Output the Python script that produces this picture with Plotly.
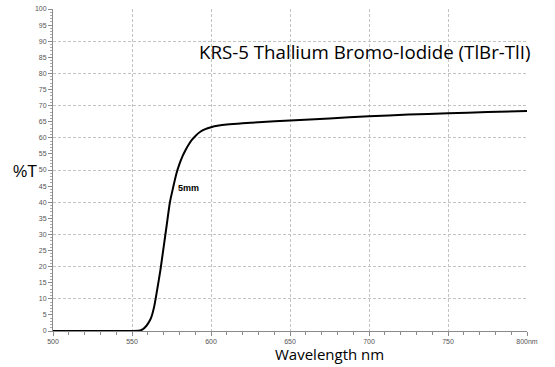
import plotly.graph_objects as go

# Data
wavelength = [500, 520, 540, 550, 554, 556, 558, 560, 562, 564, 566, 568, 570, 572, 574,
              576, 578, 580, 582, 584, 586, 588, 590, 593, 596, 600, 605, 610, 620,
              630, 650, 675, 700, 725, 750, 775, 800]
transmission = [0, 0, 0, 0, 0.05, 0.3, 1.0, 2.2, 4.0, 7.5, 13, 19, 26, 33, 40,
                44.5, 48.7, 51.8, 54.3, 56.3, 58.0, 59.4, 60.5, 61.8, 62.6, 63.3, 63.8, 64.1, 64.5,
                64.8, 65.4, 66.0, 66.7, 67.2, 67.6, 68.0, 68.3]
x_tick_vals = [500, 550, 600, 650, 700, 750, 800]
x_tick_text = ["500", "550", "600", "650", "700", "750", "800nm"]
title_text = "KRS-5 Thallium Bromo-Iodide (TlBr-TlI)"
series_label = "5mm"

fig = go.Figure()
fig.add_trace(go.Scatter(x=wavelength, y=transmission, mode="lines",
                         line=dict(color="black", width=2, shape="spline", smoothing=0.6),
                         showlegend=False, hoverinfo="skip"))
# invisible trace to anchor the grid axis
fig.add_trace(go.Scatter(x=[500], y=[0], yaxis="y2", mode="markers",
                         marker=dict(opacity=0), showlegend=False, hoverinfo="skip"))

grid_col = "#c4c4c4"
axis_col = "#8a8a8a"
tick_font = dict(family="Liberation Sans, Arial", size=7, color="#555")

fig.update_layout(
    width=555, height=367,
    margin=dict(l=53, r=28, t=5, b=36),
    paper_bgcolor="white", plot_bgcolor="white",
    xaxis=dict(range=[500, 800], tickvals=x_tick_vals, ticktext=x_tick_text,
               ticks="outside", ticklen=4, tickcolor=axis_col, tickwidth=1,
               showline=True, linecolor=axis_col, linewidth=1,
               showgrid=True, gridcolor=grid_col, griddash="3px,2px", gridwidth=1,
               zeroline=False, tickfont=tick_font,
               minor=dict(dtick=10, ticks="outside", ticklen=3, tickcolor=axis_col, showgrid=False)),
    yaxis=dict(range=[0, 100], dtick=5, ticks="outside", ticklen=4, tickcolor=axis_col,
               showline=True, linecolor=axis_col, linewidth=1,
               showgrid=False, zeroline=False, tickfont=tick_font,
               minor=dict(dtick=1, ticks="outside", ticklen=2, tickcolor="#aaa", showgrid=False)),
    yaxis2=dict(range=[0, 100], dtick=10, overlaying="y", side="left",
                showgrid=True, gridcolor=grid_col, griddash="3px,2px", gridwidth=1,
                showticklabels=False, ticks="", showline=False, zeroline=False),
)

fig.add_annotation(text=title_text, xref="paper", yref="paper", x=1.013, y=0.868,
                   xanchor="right", yanchor="middle", showarrow=False,
                   font=dict(family="Open Sans", size=18.7, color="black"))
fig.add_annotation(text="%T", xref="paper", yref="y", x=-0.059, y=49.4,
                   xanchor="center", yanchor="middle", showarrow=False,
                   font=dict(family="Liberation Sans, Arial", size=16, color="black"))
fig.add_annotation(text="Wavelength nm", xref="paper", yref="paper", x=0.584, y=-0.07,
                   xanchor="center", yanchor="middle", showarrow=False,
                   font=dict(family="Open Sans", size=15, color="black"))
fig.add_annotation(text="<b>" + series_label + "</b>", xref="x", yref="y", x=585.5, y=44.5,
                   xanchor="center", yanchor="middle", showarrow=False,
                   font=dict(family="Liberation Sans, Arial", size=9, color="black"))

fig.write_html("out.html", config={"displayModeBar": False},
               post_script="document.body.style.margin='0';")
